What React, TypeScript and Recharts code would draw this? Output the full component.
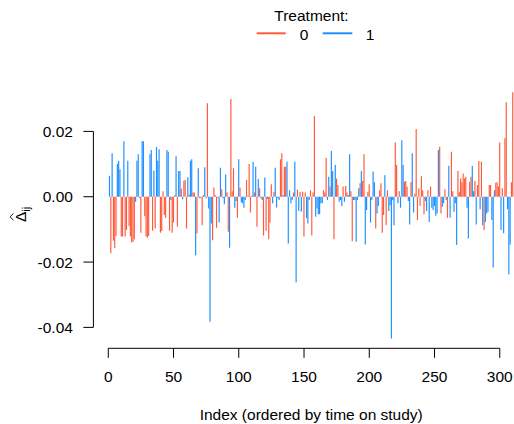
import React from 'react';
import { ComposedChart, Bar, Cell, XAxis, YAxis, ReferenceLine } from 'recharts';

// Treatment: 0 = control (red), 1 = treated (blue)
const delta1 = [0.0064, -0.0173, 0.0133, -0.0135, -0.0158, -0.012, 0.0101, 0.011, 0.0084, -0.0122, -0.0122, 0.017, -0.0122, -0.0102, 0.011, -0.009, -0.0122, -0.014, -0.0138, -0.013, -0.0015, 0.011, 0.013, -0.0004, -0.011, 0.017, 0.017, -0.006, -0.0122, -0.0125, -0.012, 0.013, 0.0143, -0.0104, 0.008, -0.0097];
const trt1 = [1, 0, 1, 0, 0, 0, 1, 1, 1, 0, 0, 1, 0, 0, 1, 0, 0, 0, 0, 0, 1, 1, 1, 0, 0, 1, 1, 0, 0, 0, 0, 1, 1, 0, 1, 0];

const delta2 = [0.0152, 0.011, 0.0145, -0.011, -0.0105, 0.0017, -0.0056, -0.0064, 0.0143, 0.0138, -0.0104, -0.001, -0.011, -0.0079, 0.0005, 0.0124, -0.0092, 0.0079, 0.0079, 0.0025, -0.0008, 0.0049, 0.0051, -0.0097, 0.006, 0.0007, 0.011, 0.0115, 0.0013, 0.0013, -0.0179, -0.0112, 0.0087, -0.0005, -0.0004, -0.0087, 0.0005, 0.009];
const trt2 = [1, 1, 1, 0, 0, 0, 0, 0, 1, 1, 0, 1, 0, 0, 0, 1, 0, 1, 1, 0, 1, 0, 0, 0, 1, 0, 1, 1, 0, 0, 1, 0, 1, 0, 0, 0, 0, 1];

const delta3 = [-0.0005, 0.0286, -0.0036, -0.0383, -0.0082, -0.0133, 0.0028, 0.0005, -0.0095, -0.0003, -0.0079, 0.0089, 0.0023, -0.0005, -0.0023, 0.0068, 0.0013, -0.0107, -0.0156, 0.0299, 0.0017, 0.0087, -0.0034, -0.0013, -0.0064, 0.0115, 0.0028, -0.0017, -0.002, -0.0034, -0.001, 0.0051, 0.0003, 0.01, -0.0048, 0.0003, 0.0106];
const trt3 = [1, 0, 1, 1, 1, 0, 0, 0, 0, 1, 1, 1, 0, 1, 1, 1, 0, 0, 1, 0, 0, 0, 1, 1, 0, 1, 0, 1, 1, 1, 1, 0, 0, 0, 0, 0, 1];

const delta4 = [0.0013, 0.0092, -0.0092, 0.0054, 0.0026, -0.0005, -0.001, -0.0119, 0.0059, -0.0104, -0.0007, -0.013, -0.0079, 0.0038, -0.002, 0.0015, 0.0089, -0.0033, -0.0005, -0.001, 0.0115, 0.0133, 0.0005, 0.0092, 0.0092, 0.0107, -0.0143, 0.002, -0.002, -0.001, 0.0013, 0.0107, -0.0262, 0.0022, -0.0044, 0.0015, -0.0046, 0.0015, -0.0122];
const trt4 = [0, 1, 0, 1, 0, 1, 1, 0, 1, 0, 1, 0, 0, 0, 1, 0, 1, 1, 1, 1, 0, 0, 1, 0, 0, 1, 1, 1, 1, 1, 0, 1, 1, 0, 1, 0, 1, 0, 0];

const delta5 = [0.0013, -0.0066, -0.0082, -0.001, 0.002, -0.0119, 0.0013, 0.0247, -0.0061, -0.0036, -0.0054, -0.0054, -0.002, -0.002, 0.002, 0.0013, 0.0119, -0.001, 0.0061, 0.0031, 0.014, 0.0079, -0.013, 0.0097, 0.0056, 0.0036, -0.0015, -0.001, -0.0028, 0.0031, -0.0015, 0.0033, 0.0013, 0.0005, 0.013, 0.0017, -0.0136, -0.001];
const trt5 = [0, 1, 1, 1, 0, 0, 0, 0, 1, 1, 1, 1, 1, 1, 0, 0, 0, 1, 1, 0, 1, 1, 0, 1, 0, 0, 1, 1, 1, 0, 1, 0, 0, 0, 1, 0, 0, 1];

const delta6 = [-0.001, -0.0138, -0.001, 0.0026, 0.0041, 0.0079, 0.0048, 0.013, -0.0146, -0.0041, 0.0015, 0.0038, -0.0079, -0.001, 0.0077, 0.0044, -0.0097, -0.0051, -0.0028, 0.002, 0.0041, -0.011, -0.0056, 0.0066, -0.0087, 0.002, -0.0044, -0.0026, -0.0434, -0.001, -0.0087, 0.0166, 0.0097, -0.002, 0.0017, -0.0034, 0.0173, 0.0097, 0.0046];
const trt6 = [1, 1, 1, 1, 0, 1, 0, 0, 1, 1, 0, 0, 1, 1, 1, 1, 0, 1, 1, 0, 0, 0, 0, 1, 0, 0, 1, 1, 1, 1, 1, 0, 0, 1, 0, 1, 1, 1, 0];

const delta7 = [0.0048, 0.0031, -0.0013, -0.0085, 0.0044, 0.0133, -0.0048, 0.001, 0.0207, -0.0071, 0.0026, -0.0028, 0.0063, 0.002, -0.0054, -0.0013, -0.0044, 0.002, -0.0077, 0.0031, -0.0034, -0.0041, -0.0028, -0.0058, -0.0051, 0.0143, 0.0153, -0.0051, -0.0031, -0.002, 0.0023, -0.001, -0.0064, 0.0095, -0.0064, 0.0138, 0.0017, -0.0046, -0.002];
const trt7 = [0, 0, 1, 1, 0, 1, 1, 0, 0, 0, 0, 0, 0, 0, 0, 1, 1, 0, 1, 0, 1, 1, 1, 1, 1, 1, 0, 0, 1, 1, 0, 1, 0, 1, 1, 0, 0, 1, 1];

const delta8 = [-0.0148, 0.0079, 0.0015, 0.0056, 0.0044, 0.0071, 0.0056, 0.0061, -0.0034, -0.0128, 0.0046, 0.0061, 0.0094, 0.0017, 0.0048, -0.0085, 0.0036, 0.0109, -0.0038, 0.0107, -0.0087, -0.0102, -0.0077, -0.0051, -0.0046, 0.0036, 0.0036, -0.0071, -0.0217, 0.002, 0.0043, 0.0044, 0.0031, 0.0166, -0.0102, 0.0026, -0.0112, 0.0179, 0.0289, -0.0038, -0.0238, -0.0146, 0.0044, 0.032];
const trt8 = [1, 0, 0, 0, 0, 0, 0, 0, 1, 1, 0, 0, 1, 1, 0, 1, 0, 0, 1, 0, 1, 0, 1, 1, 1, 0, 0, 1, 1, 1, 0, 0, 0, 0, 1, 0, 1, 0, 0, 1, 1, 1, 0, 0];

const xTicks = [0, 50, 100, 150, 200, 250, 300];
const yTicks = [-0.04, -0.02, 0, 0.02];
const treatmentLabels = ['0', '1'];

const deltas = [...delta1, ...delta2, ...delta3, ...delta4, ...delta5, ...delta6, ...delta7, ...delta8];
const treatments = [...trt1, ...trt2, ...trt3, ...trt4, ...trt5, ...trt6, ...trt7, ...trt8];
const data = deltas.map((d, i) => ({ idx: i + 1, delta: d, trt: treatments[i] }));

const RED = '#FF5A3C';
const BLUE = '#1E90FF';
const COLORS = [RED, BLUE];
const FONT = '"Liberation Sans", Arial, Helvetica, sans-serif';

const xMin = -11.4;
const xMax = 322.4;
const yMin = -0.0464;
const yMax = 0.035;

const YLabel = () => (
  <g transform="translate(25.5,222) rotate(-90)">
    <text x={0} y={0} fontSize={15.5} fontFamily={FONT} fill="#000">
      Δ<tspan dy={4} fontSize={11}>ij</tspan>
    </text>
    <path d="M 1.8 -12 L 5.2 -15.5 L 8.6 -12" fill="none" stroke="#000" strokeWidth={0.9} />
  </g>
);

export default function App() {
  return (
    <div style={{ position: 'absolute', left: 0, top: 0, width: 514, height: 424, overflow: 'hidden', background: '#fff' }}>
      <ComposedChart
        width={540}
        height={424}
        data={data}
        margin={{ top: 82.4, right: 11, left: 0, bottom: 0 }}
      >
        <XAxis
          dataKey="idx"
          type="number"
          domain={[xMin, xMax]}
          allowDataOverflow
          ticks={xTicks}
          interval={0}
          height={75.7}
          axisLine={false}
          tickLine={{ stroke: '#000' }}
          tickSize={9.5}
          tickMargin={13}
          tick={{ fill: '#000', fontSize: 15.5, fontFamily: FONT }}
          label={{ value: 'Index (ordered by time on study)', position: 'insideBottom', offset: 4.5, fill: '#000', fontSize: 15.5, fontFamily: FONT }}
        />
        <YAxis
          type="number"
          domain={[yMin, yMax]}
          allowDataOverflow
          ticks={yTicks}
          interval={0}
          width={93.4}
          axisLine={false}
          tickLine={{ stroke: '#000' }}
          tickSize={10}
          tickMargin={10.5}
          tickFormatter={(v: number) => v.toFixed(2)}
          tick={{ fill: '#000', fontSize: 15.5, fontFamily: FONT }}
          label={<YLabel />}
        />
        <ReferenceLine segment={[{ x: 0, y: yMin }, { x: 300, y: yMin }]} stroke="#000" strokeWidth={1} ifOverflow="visible" />
        <ReferenceLine segment={[{ x: xMin, y: -0.04 }, { x: xMin, y: 0.02 }]} stroke="#000" strokeWidth={1} ifOverflow="visible" />
        <Bar dataKey="delta" barSize={1.9} isAnimationActive={false}>
          {data.map((d) => (
            <Cell key={d.idx} fill={COLORS[d.trt]} />
          ))}
        </Bar>
      </ComposedChart>
      <svg width={514} height={50} style={{ position: 'absolute', left: 0, top: 0 }}>
        <text x={311.5} y={20.5} textAnchor="middle" fontSize={15.5} fontFamily={FONT} fill="#000">Treatment:</text>
        <line x1={256.7} x2={285.7} y1={33.3} y2={33.3} stroke={RED} strokeWidth={2} />
        <text x={304} y={40} textAnchor="middle" fontSize={15.5} fontFamily={FONT} fill="#000">{treatmentLabels[0]}</text>
        <line x1={322.7} x2={352.3} y1={33.3} y2={33.3} stroke={BLUE} strokeWidth={2} />
        <text x={370} y={40} textAnchor="middle" fontSize={15.5} fontFamily={FONT} fill="#000">{treatmentLabels[1]}</text>
      </svg>
    </div>
  );
}
